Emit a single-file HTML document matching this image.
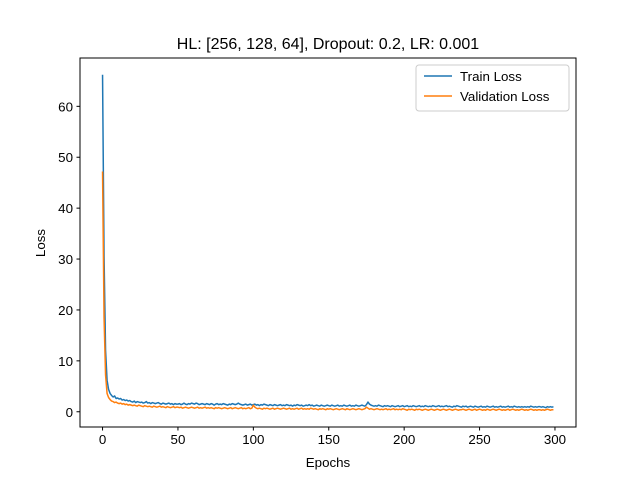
<!DOCTYPE html>
<html><head><meta charset="utf-8"><style>
body{margin:0;background:#fff}
svg{display:block;font-family:"Liberation Sans","DejaVu Sans",sans-serif}
</style></head><body>
<svg id="chart" width="640" height="480">
<rect width="640" height="480" fill="#fff"/>
<text x="328" y="49" font-size="16" text-anchor="middle">HL: [256, 128, 64], Dropout: 0.2, LR: 0.001</text>
<g id="plot"></g>
<rect x="80" y="58" width="496" height="369" fill="none" stroke="#000" stroke-width="1"/>
<text x="328" y="467" font-size="13.33" text-anchor="middle">Epochs</text>
<text transform="translate(45,243) rotate(-90)" font-size="13.33" text-anchor="middle">Loss</text>
<g>
<rect x="416" y="65" width="153" height="46" rx="3" fill="#fff" fill-opacity="0.8" stroke="#ccc"/>
<g>
<line x1="424" y1="76" x2="452" y2="76" stroke="#1f77b4" stroke-width="1.5"/>
<text x="460" y="81" font-size="13.33">Train Loss</text></g>
<g>
<line x1="424" y1="96" x2="452" y2="96" stroke="#ff7f0e" stroke-width="1.5"/>
<text x="460" y="101" font-size="13.33">Validation Loss</text></g>
</g>
</svg>
<script>
const xTicks=[0,50,100,150,200,250,300];
const yTicks=[0,10,20,30,40,50,60];
const trainLoss=[66.2,30.5,12.1,6.2,4.4,3.6,3.2,2.9,3.1,2.6,2.7,2.5,2.6,2.3,2.4,2.2,2.3,2.1,2.2,2.0,
1.9,2.1,1.8,2.0,1.9,1.8,1.9,1.7,1.8,2.0,1.7,1.8,1.6,1.8,1.7,1.6,1.7,1.8,1.6,1.5,1.7,1.6,1.5,1.6,1.7,1.5,1.6,1.4,1.6,1.5,
1.5,1.6,1.4,1.5,1.7,1.5,1.4,1.6,1.5,1.7,
1.6,1.5,1.7,1.6,1.4,1.5,1.6,1.5,1.4,1.6,
1.5,1.4,1.6,1.5,1.3,1.5,1.6,1.4,1.5,1.4,
1.6,1.5,1.4,1.3,1.5,1.4,1.6,1.5,1.4,1.5,
1.7,1.5,1.4,1.3,1.4,1.5,1.3,1.4,1.5,1.3,
1.4,1.5,1.3,1.4,1.2,1.4,1.3,1.5,1.4,1.3,
1.2,1.4,1.3,1.2,1.4,1.3,1.2,1.3,1.4,1.2,
1.3,1.2,1.4,1.3,1.2,1.3,1.1,1.3,1.2,1.4,
1.3,1.2,1.3,1.1,1.2,1.3,1.2,1.4,1.2,1.3,
1.1,1.2,1.3,1.2,1.1,1.3,1.2,1.1,1.2,1.3,
1.2,1.1,1.3,1.2,1.1,1.2,1.3,1.1,1.2,1.1,
1.3,1.2,1.1,1.2,1.3,1.1,1.2,1.1,1.3,1.2,
1.1,1.2,1.3,1.2,1.1,1.4,1.9,1.5,1.3,1.2,
1.1,1.2,1.1,1.3,1.2,1.1,1.0,1.2,1.1,1.2,
1.1,1.0,1.2,1.1,1.0,1.1,1.2,1.0,1.1,1.2,
1.0,1.1,1.2,1.0,1.1,1.0,1.2,1.1,1.0,1.1,
1.2,1.0,1.1,1.0,1.2,1.1,1.0,1.1,1.0,1.2,
1.1,1.0,1.1,1.2,1.0,1.1,1.0,1.1,1.2,1.0,
1.1,1.0,0.9,1.1,1.0,1.2,1.1,1.0,0.9,1.1,
1.0,1.1,0.9,1.0,1.1,1.0,0.9,1.1,1.0,0.9,
1.0,1.1,0.9,1.0,0.9,1.1,1.0,0.9,1.0,1.1,
0.9,1.0,0.9,1.0,1.1,0.9,1.0,0.9,1.0,1.1,
0.9,1.0,0.9,1.1,1.0,0.9,1.0,0.9,1.0,0.9,
1.0,0.9,1.0,0.9,1.1,1.0,0.9,1.0,0.9,1.0,
1.0,0.9,1.0,0.9,0.8,1.0,0.9,1.0,0.9,1.0];
const valLoss=[47.2,18.5,7.2,3.6,2.8,2.4,2.1,2.0,1.8,1.9,
1.7,1.6,1.7,1.5,1.6,1.4,1.5,1.3,1.4,1.3,
1.2,1.3,1.2,1.1,1.3,1.2,1.1,1.0,1.2,1.1,
1.0,1.1,1.0,0.9,1.1,1.0,0.9,1.0,1.1,0.9,
1.0,0.9,0.8,1.0,0.9,0.8,0.9,1.0,0.8,0.9,
0.9,0.8,0.9,0.7,0.8,0.9,0.8,0.7,0.8,0.9,
0.8,0.7,0.8,0.9,0.7,0.8,0.7,0.8,0.9,0.7,
0.8,0.7,0.8,0.7,0.6,0.8,0.7,0.8,0.7,0.6,
0.7,0.8,0.7,0.6,0.7,0.8,0.6,0.7,0.8,0.7,
0.6,0.7,0.8,0.6,0.7,0.6,0.7,0.8,0.6,0.7,
1.3,0.9,0.7,0.6,0.7,0.6,0.5,0.7,0.6,0.7,
0.6,0.5,0.6,0.7,0.5,0.6,0.7,0.6,0.5,0.6,
0.7,0.6,0.5,0.6,0.7,0.5,0.6,0.5,0.6,0.7,
0.5,0.6,0.7,0.5,0.6,0.5,0.6,0.5,0.7,0.6,
0.5,0.6,0.5,0.4,0.6,0.5,0.6,0.5,0.4,0.6,
0.5,0.6,0.5,0.4,0.5,0.6,0.5,0.4,0.5,0.6,
0.5,0.4,0.6,0.5,0.4,0.5,0.6,0.5,0.4,0.5,
0.6,0.5,0.4,0.5,0.6,0.9,0.7,0.5,0.6,0.5,
0.4,0.5,0.6,0.5,0.4,0.5,0.4,0.5,0.6,0.4,
0.5,0.4,0.5,0.6,0.4,0.5,0.4,0.5,0.4,0.6,
0.5,0.4,0.3,0.5,0.4,0.5,0.4,0.3,0.5,0.4,
0.5,0.4,0.3,0.4,0.5,0.4,0.3,0.4,0.5,0.4,
0.3,0.4,0.5,0.4,0.3,0.4,0.5,0.4,0.3,0.4,
0.5,0.4,0.3,0.4,0.5,0.4,0.3,0.4,0.4,0.5,
0.4,0.3,0.4,0.5,0.4,0.3,0.4,0.5,0.3,0.4,
0.5,0.4,0.3,0.4,0.3,0.5,0.4,0.3,0.4,0.5,
0.4,0.3,0.4,0.5,0.4,0.3,0.4,0.3,0.4,0.5,
0.3,0.4,0.5,0.4,0.3,0.4,0.3,0.4,0.5,0.4,
0.3,0.4,0.3,0.4,0.5,0.4,0.3,0.4,0.3,0.4,
0.4,0.3,0.4,0.3,0.4,0.5,0.4,0.3,0.4,0.4];

const NS="http://www.w3.org/2000/svg";
const L=80,R=576,T=58,B=427;
const n=Math.max(trainLoss.length,valLoss.length);
const xmin=-0.05*(n-1),xmax=(n-1)*1.05;
const allV=trainLoss.concat(valLoss);
const vmax=Math.max(...allV),vmin=Math.min(...allV);
const ymin=vmin-0.05*(vmax-vmin),ymax=vmax+0.05*(vmax-vmin);
const sx=v=>L+(v-xmin)/(xmax-xmin)*(R-L);
const sy=v=>B-(v-ymin)/(ymax-ymin)*(B-T);
const g=document.getElementById('plot');
function mk(tag,attrs){const e=document.createElementNS(NS,tag);for(const k in attrs)e.setAttribute(k,attrs[k]);g.appendChild(e);return e;}
xTicks.forEach(t=>{
  const l=mk('line',{x1:sx(t),x2:sx(t),y1:B,y2:B+3.5,stroke:'#000'});
  
  
  const tx=mk('text',{x:sx(t),y:B+17,'font-size':13.33,'text-anchor':'middle'});
  tx.textContent=t;
  
  
});
yTicks.forEach(t=>{
  const l=mk('line',{x1:L-3.5,x2:L,y1:sy(t),y2:sy(t),stroke:'#000'});
  
  
  const tx=mk('text',{x:L-7,y:sy(t)+5,'font-size':13.33,'text-anchor':'end'});
  tx.textContent=t;
  
  
});
function series(arr,color,name){
  const d=arr.map((v,i)=>(i?'L':'M')+sx(i).toFixed(2)+','+sy(v).toFixed(2)).join('');
  const p=mk('path',{d:d,fill:'none',stroke:color,'stroke-width':1.5,'stroke-linejoin':'round'});
  
  
}
series(trainLoss,'#1f77b4','train-loss-line');
series(valLoss,'#ff7f0e','validation-loss-line');
</script>
</body></html>
